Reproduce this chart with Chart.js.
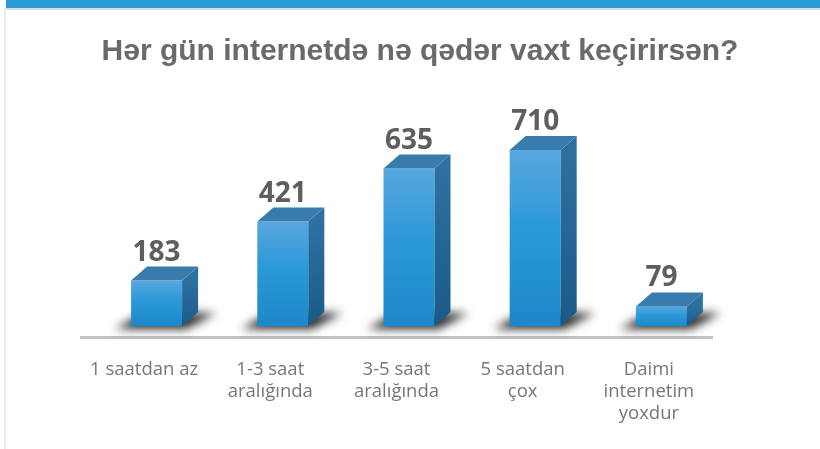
<!DOCTYPE html>
<html>
<head>
<meta charset="utf-8">
<script src="https://cdn.jsdelivr.net/npm/chart.js@4"></script>
<style>
  html, body { margin: 0; padding: 0; background: #fff; }
  #wrap { position: relative; width: 820px; height: 449px; overflow: hidden; }
  #band { position: absolute; left: 6px; top: 0; width: 814px; height: 8px; background: #2a9ad8; border-bottom: 2px solid #d8dde1; }
  #edge { position: absolute; left: 4px; top: 8px; width: 2px; height: 441px; background: #ececec; }
  canvas { position: absolute; left: 0; top: 0; }
</style>
</head>
<body>
<div id="wrap">
  <canvas id="timeChart" width="820" height="449"></canvas>
  <div id="band"></div>
  <div id="edge"></div>
</div>
<script>
const categories = [
    '1 saatdan az',
    ['1-3 saat', 'aralığında'],
    ['3-5 saat', 'aralığında'],
    ['5 saatdan', 'çox'],
    ['Daimi', 'internetim', 'yoxdur']
];
const answers = [183, 421, 635, 710, 79];
const chartTitle = 'Hər gün internetdə nə qədər vaxt keçirirsən?';

// 3d bar look: front face is shifted right/up from the category slot
const shiftX = 12.5, shiftY = -11, depthX = 16, depthY = -14;

// title sits a bit right of the canvas middle, as in the slide
const slideTitle = {
    id: 'slideTitle',
    afterDraw(chart) {
        const ctx = chart.ctx;
        ctx.save();
        ctx.fillStyle = '#6a6a6a';
        ctx.font = 'bold 30px "Liberation Sans"';
        ctx.textAlign = 'center';
        ctx.textBaseline = 'alphabetic';
        ctx.fillText(chartTitle, chart.width / 2 + 10, 60);
        ctx.restore();
    }
};

const bars3d = {
    id: 'bars3d',
    afterDatasetsDraw(chart) {
        const ctx = chart.ctx;
        const meta = chart.getDatasetMeta(0);
        meta.data.forEach((bar, i) => {
            const w = bar.width;
            const l = bar.x - w / 2 + shiftX;
            const r = bar.x + w / 2 + shiftX;
            const top = bar.y + shiftY;
            const base = bar.base + shiftY;

            // floor shadow
            ctx.save();
            ctx.filter = 'blur(5px)';
            ctx.fillStyle = 'rgba(20,20,20,0.9)';
            ctx.beginPath();
            ctx.moveTo(l - 16, base + 3);
            ctx.lineTo(r + 4, base + 3);
            ctx.lineTo(r + depthX + 18, base + depthY + 1);
            ctx.lineTo(l + depthX - 4, base + depthY + 1);
            ctx.closePath();
            ctx.fill();
            ctx.restore();

            // front
            let g = ctx.createLinearGradient(0, top, 0, base);
            g.addColorStop(0, '#58a8de');
            g.addColorStop(0.45, '#2b98d8');
            g.addColorStop(1, '#1c88c9');
            ctx.fillStyle = g;
            ctx.fillRect(l, top, r - l, base - top);

            // side
            g = ctx.createLinearGradient(0, top, 0, base);
            g.addColorStop(0, '#2d71a2');
            g.addColorStop(1, '#195a88');
            ctx.fillStyle = g;
            ctx.beginPath();
            ctx.moveTo(r, top);
            ctx.lineTo(r + depthX, top + depthY);
            ctx.lineTo(r + depthX, base + depthY);
            ctx.lineTo(r, base);
            ctx.closePath();
            ctx.fill();

            // top
            ctx.fillStyle = '#377cad';
            ctx.beginPath();
            ctx.moveTo(l, top);
            ctx.lineTo(l + depthX, top + depthY);
            ctx.lineTo(r + depthX, top + depthY);
            ctx.lineTo(r, top);
            ctx.closePath();
            ctx.fill();

            // value
            ctx.fillStyle = '#5e5e5e';
            ctx.font = 'bold 28px "Open Sans"';
            ctx.textAlign = 'center';
            ctx.textBaseline = 'alphabetic';
            ctx.fillText(answers[i], (l + r) / 2, top + depthY - 6);
        });
    }
};

new Chart(document.getElementById('timeChart'), {
    type: 'bar',
    data: {
        labels: categories,
        datasets: [{
            data: answers,
            backgroundColor: 'rgba(0,0,0,0)',
            barThickness: 51
        }]
    },
    options: {
        responsive: false,
        animation: false,
        layout: {
            padding: { left: 81, right: 108, top: 89, bottom: 2 }
        },
        scales: {
            x: {
                grid: { display: false, drawTicks: false },
                border: { display: true, color: '#c2c2c2', width: 3 },
                ticks: {
                    color: '#767676',
                    font: { family: 'Open Sans', size: 18.5, lineHeight: '22px' },
                    padding: 22,
                    maxRotation: 0,
                    autoSkip: false
                }
            },
            y: {
                display: false,
                min: 0,
                max: 1000
            }
        },
        plugins: {
            legend: { display: false },
            tooltip: { enabled: false },
            title: { display: false }
        }
    },
    plugins: [bars3d, slideTitle]
});
</script>
</body>
</html>
